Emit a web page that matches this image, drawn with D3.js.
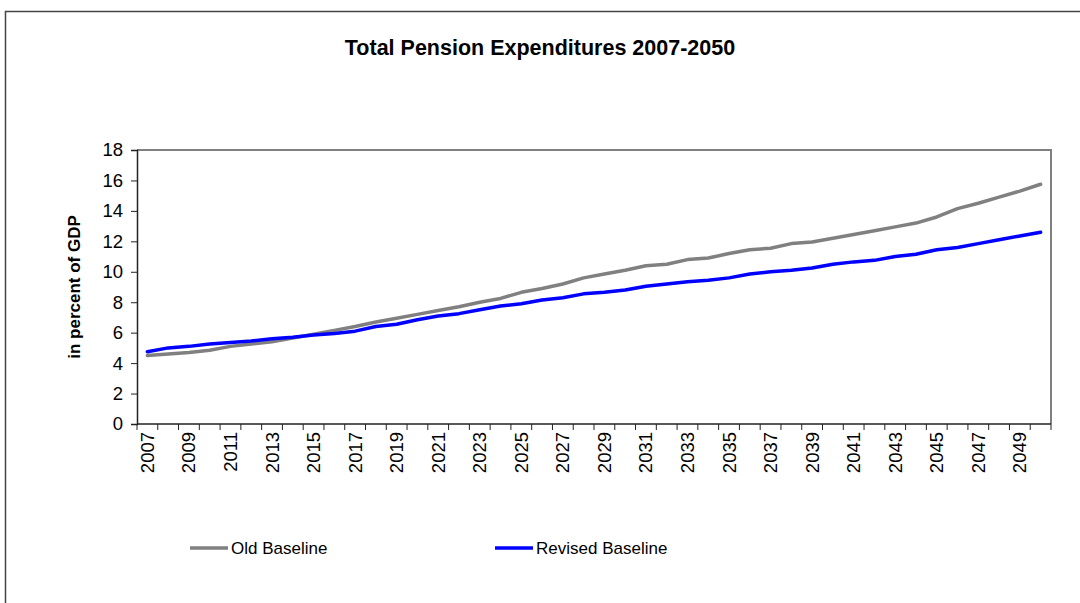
<!DOCTYPE html>
<html>
<head>
<meta charset="utf-8">
<script src="https://cdn.jsdelivr.net/npm/d3@7"></script>
<style>
  body { margin: 0; background: #fff; }
  text { font-family: "Liberation Sans", Arial, sans-serif; }
</style>
</head>
<body>
<div id="chart"></div>
<script>
var years = d3.range(2007, 2051);
var oldBaseline = [4.5, 4.6, 4.7, 4.85, 5.1, 5.25, 5.4, 5.65, 5.9, 6.15,
    6.4, 6.7, 6.95, 7.2, 7.45, 7.7, 8.0, 8.25, 8.65, 8.9,
    9.2, 9.6, 9.85, 10.1, 10.4, 10.5, 10.8, 10.9, 11.2, 11.45,
    11.55, 11.85, 11.95, 12.2, 12.45, 12.7, 12.95, 13.2, 13.6, 14.15,
    14.5, 14.9, 15.3, 15.75];
var revisedBaseline = [4.75, 5.0, 5.1, 5.25, 5.35, 5.45, 5.6, 5.7, 5.85, 5.95,
    6.1, 6.4, 6.55, 6.85, 7.1, 7.25, 7.5, 7.75, 7.9, 8.15,
    8.3, 8.55, 8.65, 8.8, 9.05, 9.2, 9.35, 9.45, 9.6, 9.85,
    10.0, 10.1, 10.25, 10.5, 10.65, 10.75, 11.0, 11.15, 11.45, 11.6,
    11.85, 12.1, 12.35, 12.6];
var yTicks = [0, 2, 4, 6, 8, 10, 12, 14, 16, 18];
var seriesNames = ["Old Baseline", "Revised Baseline"];
var seriesColors = ["#808080", "#0000ff"];

var width = 1080, height = 603;
var plotLeft = 137, plotTop = 150, plotRight = 1051, plotBottom = 424;

var svg = d3.select("#chart").append("svg")
    .attr("width", width)
    .attr("height", height);

// outer chart frame
svg.append("rect")
    .attr("x", 5.5).attr("y", 11.5)
    .attr("width", 1200).attr("height", 700)
    .attr("fill", "none")
    .attr("stroke", "#444")
    .attr("stroke-width", 1.5);

svg.append("text")
    .attr("x", 540).attr("y", 55)
    .attr("text-anchor", "middle")
    .attr("font-size", 21.5)
    .attr("font-weight", "bold")
    .text("Total Pension Expenditures 2007-2050");

var x = d3.scaleBand()
    .domain(years)
    .range([plotLeft, plotRight]);

var y = d3.scaleLinear()
    .domain([0, 18])
    .range([plotBottom, plotTop]);

// plot area border (top and right)
svg.append("path")
    .attr("d", "M" + plotLeft + "," + plotTop + "H" + plotRight + "V" + plotBottom)
    .attr("fill", "none")
    .attr("stroke", "#808080")
    .attr("stroke-width", 2);

// y axis
var yAxis = svg.append("g")
    .attr("transform", "translate(" + plotLeft + ",0)")
    .call(d3.axisLeft(y).tickValues(yTicks).tickSize(6).tickPadding(8).tickFormat(d3.format("d")));
yAxis.select(".domain").attr("stroke", "#222").attr("stroke-width", 1.5);
yAxis.selectAll(".tick line").attr("stroke", "#222");
yAxis.selectAll("text").attr("font-size", 18.5).attr("fill", "#000")
    .attr("font-family", "Liberation Sans, Arial, sans-serif");

// x axis: ticks on category boundaries
var xg = svg.append("g");
xg.append("line")
    .attr("x1", plotLeft).attr("x2", plotRight)
    .attr("y1", plotBottom).attr("y2", plotBottom)
    .attr("stroke", "#222").attr("stroke-width", 1.5);
xg.selectAll("line.tick")
    .data(years.concat([2051]))
    .enter().append("line")
    .attr("class", "tick")
    .attr("x1", function(d) { return d === 2051 ? plotRight : x(d); })
    .attr("x2", function(d) { return d === 2051 ? plotRight : x(d); })
    .attr("y1", plotBottom).attr("y2", plotBottom + 6)
    .attr("stroke", "#222");
xg.selectAll("text")
    .data(years.filter(function(d, i) { return i % 2 === 0; }))
    .enter().append("text")
    .attr("transform", function(d) {
        return "translate(" + (x(d) + x.bandwidth() / 2 + 6.5) + "," + (plotBottom + 8) + ") rotate(-90)";
    })
    .attr("text-anchor", "end")
    .attr("font-size", 18.5)
    .text(function(d) { return d; });

svg.append("text")
    .attr("transform", "translate(80," + ((plotTop + plotBottom) / 2) + ") rotate(-90)")
    .attr("text-anchor", "middle")
    .attr("font-size", 17)
    .attr("font-weight", "bold")
    .text("in percent of GDP");

var line = d3.line()
    .x(function(d, i) { return x(years[i]) + x.bandwidth() / 2; })
    .y(function(d) { return y(d); });

[oldBaseline, revisedBaseline].forEach(function(s, i) {
    svg.append("path")
        .datum(s)
        .attr("d", line)
        .attr("fill", "none")
        .attr("stroke", seriesColors[i])
        .attr("stroke-width", 3.5)
        .attr("stroke-linejoin", "round")
        .attr("stroke-linecap", "round");
});

// legend
var legendX = [190, 495];
var lg = svg.selectAll("g.legend")
    .data(seriesNames)
    .enter().append("g")
    .attr("class", "legend")
    .attr("transform", function(d, i) { return "translate(" + legendX[i] + ",548)"; });
lg.append("line")
    .attr("x1", 0).attr("x2", 38)
    .attr("stroke", function(d, i) { return seriesColors[i]; })
    .attr("stroke-width", 3.5);
lg.append("text")
    .attr("x", 41).attr("y", 6)
    .attr("font-size", 17)
    .text(function(d) { return d; });
</script>
</body>
</html>
